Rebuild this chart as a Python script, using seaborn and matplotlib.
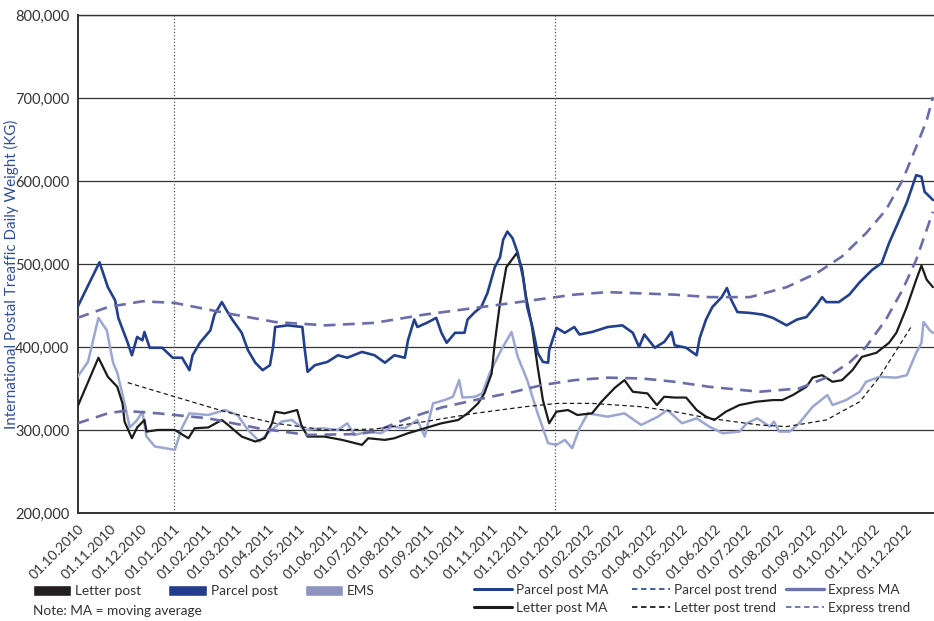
import matplotlib
matplotlib.use('Agg')
import matplotlib.pyplot as plt
import matplotlib.dates as mdates
from matplotlib.patches import Patch
from matplotlib.lines import Line2D
from matplotlib.ticker import FuncFormatter
import seaborn as sns
import pandas as pd

# days are counted from 01.10.2010, values in thousand kg
START = pd.Timestamp('2010-10-01')

parcel_days = [0, 21, 29, 36, 39, 48, 52, 57, 62, 64, 69, 81, 91, 100, 107, 110, 117, 127, 131, 138,
               144, 148, 157, 163, 170, 177, 184, 187, 189, 201, 215, 217, 220, 227, 239, 249, 258, 272, 284, 294,
               303, 313, 316, 322, 325, 334, 343, 348, 353, 361, 370, 373, 380, 386, 392, 399, 404, 407, 411, 416,
               421, 426, 430, 435, 440, 445, 450, 451, 458, 466, 475, 480, 492, 507, 521, 531, 537, 542, 552, 561,
               568, 571, 582, 592, 595, 601, 607, 616, 621, 625, 631, 643, 655, 665, 678, 688, 697, 707, 712, 716,
               728, 738, 748, 760, 769, 776, 783, 793, 802, 807, 810, 818]
parcel_ma = [448, 502, 472, 456, 435, 405, 390, 412, 408, 418, 399, 399, 387, 387, 372, 390, 405, 420, 439, 454,
             441, 433, 417, 396, 381, 372, 378, 400, 424, 426, 424, 400, 370, 378, 382, 390, 387, 394, 390, 381,
             390, 387, 408, 433, 424, 429, 435, 417, 405, 417, 417, 433, 442, 448, 465, 496, 508, 529, 539, 531,
             513, 484, 448, 424, 393, 382, 381, 396, 423, 417, 424, 415, 418, 424, 426, 417, 400, 415, 399, 406,
             418, 402, 399, 390, 411, 433, 448, 460, 471, 457, 442, 441, 439, 435, 426, 433, 436, 451, 460, 454,
             454, 463, 478, 493, 501, 525, 545, 574, 607, 605, 587, 577]

letter_days = [0, 20, 29, 38, 43, 45, 52, 57, 64, 66, 77, 93, 106, 112, 125, 138, 144, 157, 170, 179,
               186, 189, 198, 210, 214, 220, 236, 253, 272, 278, 294, 303, 316, 332, 348, 364, 373, 383, 389, 396,
               399, 404, 410, 420, 425, 429, 434, 440, 445, 451, 458, 469, 478, 492, 501, 514, 523, 531, 545, 554,
               561, 571, 582, 592, 601, 609, 620, 633, 649, 665, 674, 684, 697, 703, 712, 722, 731, 741, 750, 764,
               776, 783, 793, 802, 807, 812, 818]
letter_ma = [328, 387, 364, 352, 332, 310, 290, 303, 312, 298, 300, 300, 290, 302, 303, 312, 306, 292, 286, 290,
             308, 322, 320, 324, 306, 292, 292, 288, 282, 290, 288, 290, 296, 302, 308, 312, 320, 332, 344, 368,
             405, 453, 496, 513, 495, 460, 429, 376, 336, 308, 322, 324, 318, 320, 334, 351, 360, 346, 344, 330,
             340, 339, 339, 324, 316, 312, 322, 330, 334, 336, 336, 342, 352, 363, 366, 358, 360, 372, 388, 393,
             405, 417, 448, 481, 498, 481, 472]

ems_days = [0, 10, 20, 28, 34, 38, 45, 50, 57, 62, 66, 74, 84, 93, 100, 107, 125, 141, 153, 163,
            174, 182, 195, 205, 217, 234, 249, 258, 265, 278, 290, 301, 313, 325, 332, 340, 351, 359, 365, 368,
            380, 387, 394, 405, 415, 421, 430, 440, 450, 458, 466, 473, 480, 488, 507, 523, 539, 555, 564, 571,
            578, 592, 604, 617, 633, 640, 650, 662, 666, 671, 681, 690, 703, 717, 722, 735, 748, 754, 767, 783,
            793, 802, 807, 809, 815, 818]
ems_ma = [364, 382, 435, 420, 381, 369, 332, 303, 312, 322, 292, 280, 278, 276, 303, 320, 318, 324, 318, 300,
          286, 296, 310, 312, 300, 302, 300, 308, 294, 298, 296, 304, 302, 312, 292, 332, 336, 340, 360, 339,
          340, 344, 368, 396, 418, 388, 360, 320, 284, 282, 288, 278, 302, 320, 316, 320, 306, 316, 324, 316,
          308, 314, 304, 296, 298, 308, 314, 304, 310, 298, 298, 308, 328, 342, 330, 336, 346, 358, 364, 363,
          366, 393, 405, 430, 420, 417]

parcel_trend_days = [0, 29, 62, 93, 141, 189, 237, 284, 332, 380, 428, 475, 507, 571, 604, 643, 678, 707,
                     731, 754, 773, 789, 802, 812, 818]
parcel_trend = [435, 448, 455, 453, 441, 430, 426, 429, 439, 447, 455, 463, 466, 463, 460, 460, 472, 489,
                509, 537, 565, 601, 641, 673, 701]

express_trend_days = [0, 29, 45, 77, 125, 173, 220, 268, 284, 316, 348, 380, 411, 444, 475, 507, 540, 571,
                      604, 652, 690, 716, 738, 754, 773, 789, 802, 818]
express_trend = [308, 320, 323, 320, 314, 302, 294, 295, 298, 314, 327, 336, 344, 354, 360, 363, 362, 358,
                 352, 346, 350, 363, 381, 400, 433, 469, 505, 563]

letter_trend_days = [48, 93, 141, 189, 237, 284, 332, 380, 428, 459, 492, 539, 571, 604, 652, 678, 716, 748,
                     767, 783, 798]
letter_trend = [357, 340, 322, 308, 300, 301, 310, 320, 328, 332, 332, 328, 322, 314, 306, 304, 312, 334,
                364, 396, 426]

C_PARCEL = '#23408f'
C_LETTER = '#1c1c1c'
C_EMS = '#9ba6d2'
C_TREND = '#6b6dab'
FONT = ['Lato', 'DejaVu Sans']


def frame(days, vals):
    return pd.DataFrame({'date': START + pd.to_timedelta(days, unit='D'),
                         'kg': [v * 1000 for v in vals]})


sns.set_theme(style="white")
plt.rcParams['font.family'] = FONT
plt.rcParams['text.color'] = '#333333'

fig, ax = plt.subplots(figsize=(9.34, 6.21), dpi=100)
fig.subplots_adjust(left=0.083, right=1.0, bottom=0.174, top=0.976)

sns.lineplot(data=frame(ems_days, ems_ma), x='date', y='kg', ax=ax, color=C_EMS, lw=1.8, zorder=3)
sns.lineplot(data=frame(letter_days, letter_ma), x='date', y='kg', ax=ax, color=C_LETTER, lw=1.6, zorder=4)
sns.lineplot(data=frame(parcel_days, parcel_ma), x='date', y='kg', ax=ax, color=C_PARCEL, lw=1.9, zorder=4)
sns.lineplot(data=frame(parcel_trend_days, parcel_trend), x='date', y='kg', ax=ax, color=C_TREND,
             lw=1.9, linestyle=(0, (4.5, 2.8)), zorder=5)
sns.lineplot(data=frame(express_trend_days, express_trend), x='date', y='kg', ax=ax, color=C_TREND,
             lw=1.9, linestyle=(0, (4.5, 2.8)), zorder=5)
sns.lineplot(data=frame(letter_trend_days, letter_trend), x='date', y='kg', ax=ax, color=C_LETTER,
             lw=0.9, linestyle=(0, (3.5, 2.5)), zorder=5)

for d in ['2011-01-01', '2012-01-01']:
    ax.axvline(pd.Timestamp(d), color='#555555', ls=':', lw=0.9, zorder=2)

ax.set_ylim(200000, 800000)
ax.set_xlim(START, pd.Timestamp('2012-12-28'))
ax.set_yticks(range(200000, 800001, 100000))
ax.yaxis.set_major_formatter(FuncFormatter(lambda v, p: f'{v:,.0f}'))
ax.yaxis.grid(True, color='#333333', lw=0.9)
ax.set_axisbelow(True)
ax.xaxis.set_major_locator(mdates.MonthLocator())
ax.xaxis.set_major_formatter(mdates.DateFormatter('%d.%m.%Y'))

for s in ['left', 'bottom', 'top']:
    ax.spines[s].set_color('#333333')
    ax.spines[s].set_linewidth(1.0)
ax.spines['bottom'].set_linewidth(1.4)
ax.spines['left'].set_linewidth(1.4)
ax.spines['right'].set_visible(False)

ax.tick_params(axis='x', direction='out', length=5, width=1, color='#333333', labelsize=10, pad=2)
ax.tick_params(axis='y', direction='out', length=3, width=1, color='#333333', labelsize=10.5, pad=3)
ax.tick_params(colors='#333333', which='both')
plt.setp(ax.get_xticklabels(), rotation=45, ha='right', va='top', rotation_mode='anchor')

ax.set_xlabel('')
ax.set_ylabel('International Postal Treaffic Daily Weight (KG)', color='#2f4f9e', fontsize=10.9)
ax.yaxis.set_label_coords(-0.068, 0.48)

W, H = 934, 621


def add_legend(handles, labels, x, y, ncol=1, colsp=2.6):
    fig.legend(handles, labels, loc='center left', bbox_to_anchor=(x / W, 1 - y / H), ncol=ncol,
               frameon=False, fontsize=9.8, handlelength=2.8, handleheight=0.85, handletextpad=0.3,
               borderpad=0, borderaxespad=0, labelspacing=0.45, columnspacing=colsp)


bars = [Patch(fc='#231f20'), Patch(fc='#233c8c'), Patch(fc='#8f93c0')]
add_legend(bars, ['Letter post', 'Parcel post', 'EMS'], 33, 591, ncol=3, colsp=2.0)
fig.text(33 / W, 1 - 611 / H, 'Note: MA = moving average', fontsize=9.8, va='center')

add_legend([Line2D([], [], color=C_PARCEL, lw=2.2), Line2D([], [], color=C_LETTER, lw=2.2)],
           ['Parcel post MA', 'Letter post MA'], 474, 599)
add_legend([Line2D([], [], color='#3553a5', lw=1.3, ls=(0, (3, 2))),
            Line2D([], [], color=C_LETTER, lw=1.3, ls=(0, (3, 2)))],
           ['Parcel post trend', 'Letter post trend'], 632, 599)
add_legend([Line2D([], [], color='#7074ae', lw=2.4), Line2D([], [], color=C_TREND, lw=1.3, ls=(0, (3, 2)))],
           ['Express MA', 'Express trend'], 786, 599)

fig.savefig('out.png', dpi=100)
plt.close(fig)
